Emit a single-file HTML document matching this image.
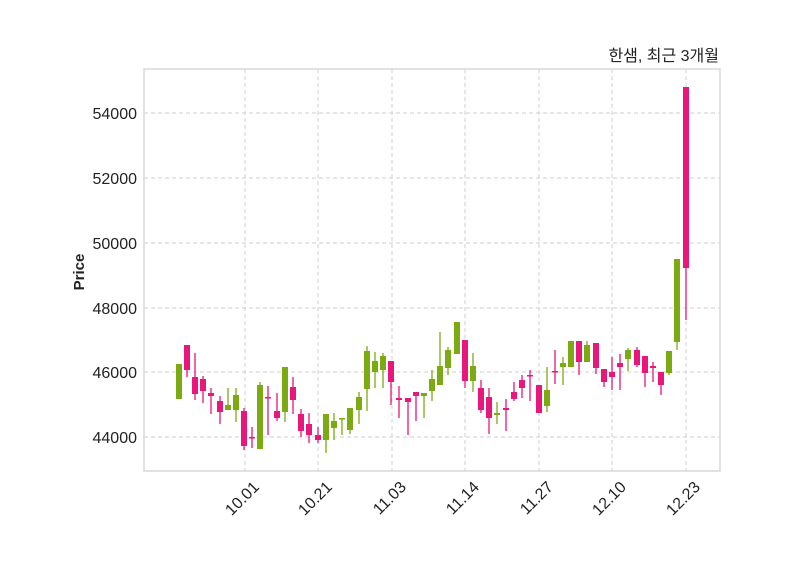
<!DOCTYPE html>
<html><head><meta charset="utf-8"><style>
body{margin:0;background:#fff;}
svg{display:block;font-family:"Liberation Sans","Noto Sans CJK KR",sans-serif;}
</style></head><body>
<svg id="s" width="800" height="575" viewBox="0 0 800 575" xmlns="http://www.w3.org/2000/svg">
<rect x="0" y="0" width="800" height="575" fill="#fff"/>
<g stroke="#cfcfcf" stroke-dasharray="4,3" stroke-width="1">
<line x1="144" x2="720" y1="113" y2="113"/><line x1="144" x2="720" y1="178" y2="178"/>
<line x1="144" x2="720" y1="243" y2="243"/><line x1="144" x2="720" y1="308" y2="308"/>
<line x1="144" x2="720" y1="372" y2="372"/><line x1="144" x2="720" y1="437" y2="437"/>
<line y1="69" y2="471" x1="245" x2="245"/><line y1="69" y2="471" x1="318" x2="318"/>
<line y1="69" y2="471" x1="392" x2="392"/><line y1="69" y2="471" x1="465" x2="465"/>
<line y1="69" y2="471" x1="539" x2="539"/><line y1="69" y2="471" x1="612" x2="612"/>
<line y1="69" y2="471" x1="686" x2="686"/>
</g>
<rect x="144" y="69" width="576" height="402" fill="none" stroke="#d8d8d8" stroke-width="1.5"/>
<g id="c"></g>
<g font-size="16" fill="#222" text-anchor="end">
<text x="137" y="119">54000</text><text x="137" y="184">52000</text>
<text x="137" y="249">50000</text><text x="137" y="314">48000</text>
<text x="137" y="378">46000</text><text x="137" y="443">44000</text>
</g>
<g font-size="16" fill="#222" text-anchor="end">
<text transform="translate(260,488) rotate(-45)">10.01</text>
<text transform="translate(333,488) rotate(-45)">10.21</text>
<text transform="translate(407,488) rotate(-45)">11.03</text>
<text transform="translate(480,488) rotate(-45)">11.14</text>
<text transform="translate(554,488) rotate(-45)">11.27</text>
<text transform="translate(627,488) rotate(-45)">12.10</text>
<text transform="translate(701,488) rotate(-45)">12.23</text>
</g>
<text transform="translate(84,272) rotate(-90)" font-size="15" font-weight="bold" fill="#222" text-anchor="middle">Price</text>
<text x="719" y="61" font-size="16" fill="#222" text-anchor="end">한샘, 최근 3개월</text>
</svg>
<script>
var d=[
[179,364,399,364,399,1],[187,345,370,345,377,0],[195,377,394,353,400,0],[203,379,391,376,403,0],
[211,393,396,388,414,0],[220,401,412,396,424,0],[228,405,410,388,410,1],[236,395,410,388,422,1],
[244,411,446,408,450,0],[252,437,438,427,448,0],[260,385,449,382,449,1],[268,397,398,386,435,0],
[277,411,418,393,421,0],[285,367,412,367,422,1],[293,387,400,377,414,0],[301,414,431,409,437,0],
[309,424,435,413,443,0],[318,435,440,427,443,0],[326,414,440,414,453,1],[334,421,428,413,440,1],
[342,418,419,418,435,1],[350,408,430,408,434,1],[359,397,410,392,424,1],[367,351,389,346,411,1],
[375,361,372,352,388,1],[383,356,370,353,388,1],[391,361,382,361,405,0],[399,398,400,386,418,0],
[408,398,402,398,435,0],[416,392,396,392,421,0],[424,393,396,393,418,1],[432,379,391,370,401,1],
[440,366,385,332,385,1],[448,350,368,347,375,1],[457,322,354,322,354,1],[465,340,381,340,388,0],
[473,366,381,353,392,1],[481,388,410,380,413,0],[489,397,418,388,434,0],[497,413,415,402,424,1],
[506,408,410,399,431,0],[514,392,399,382,401,0],[522,380,388,375,398,0],[530,375,376,370,401,0],
[539,385,413,385,413,0],[547,390,406,367,412,1],[555,371,372,350,384,0],[563,363,367,357,385,1],
[571,341,367,341,367,1],[579,341,362,341,375,0],[587,345,362,341,362,1],[596,343,368,343,374,0],
[604,369,382,369,387,0],[612,372,377,357,390,0],[620,363,367,354,390,0],[628,350,359,348,371,1],
[637,350,365,347,367,0],[645,356,373,356,387,0],[653,366,368,362,382,0],[661,372,385,372,395,0],
[669,351,373,351,375,1],[677,259,342,259,350,1],[686,87,268,87,320,0]];
var g=document.getElementById('c'),h='';
d.forEach(function(c){var col=c[5]?'#7caa12':'#e8177c';
h+='<line x1="'+c[0]+'" x2="'+c[0]+'" y1="'+c[3]+'" y2="'+c[4]+'" stroke="'+col+'" stroke-width="1.3"/>';
var bh=Math.max(c[2]-c[1],1.5);
h+='<rect x="'+(c[0]-3)+'" y="'+c[1]+'" width="6" height="'+bh+'" fill="'+col+'"/>';});
g.innerHTML=h;
</script>
</body></html>
